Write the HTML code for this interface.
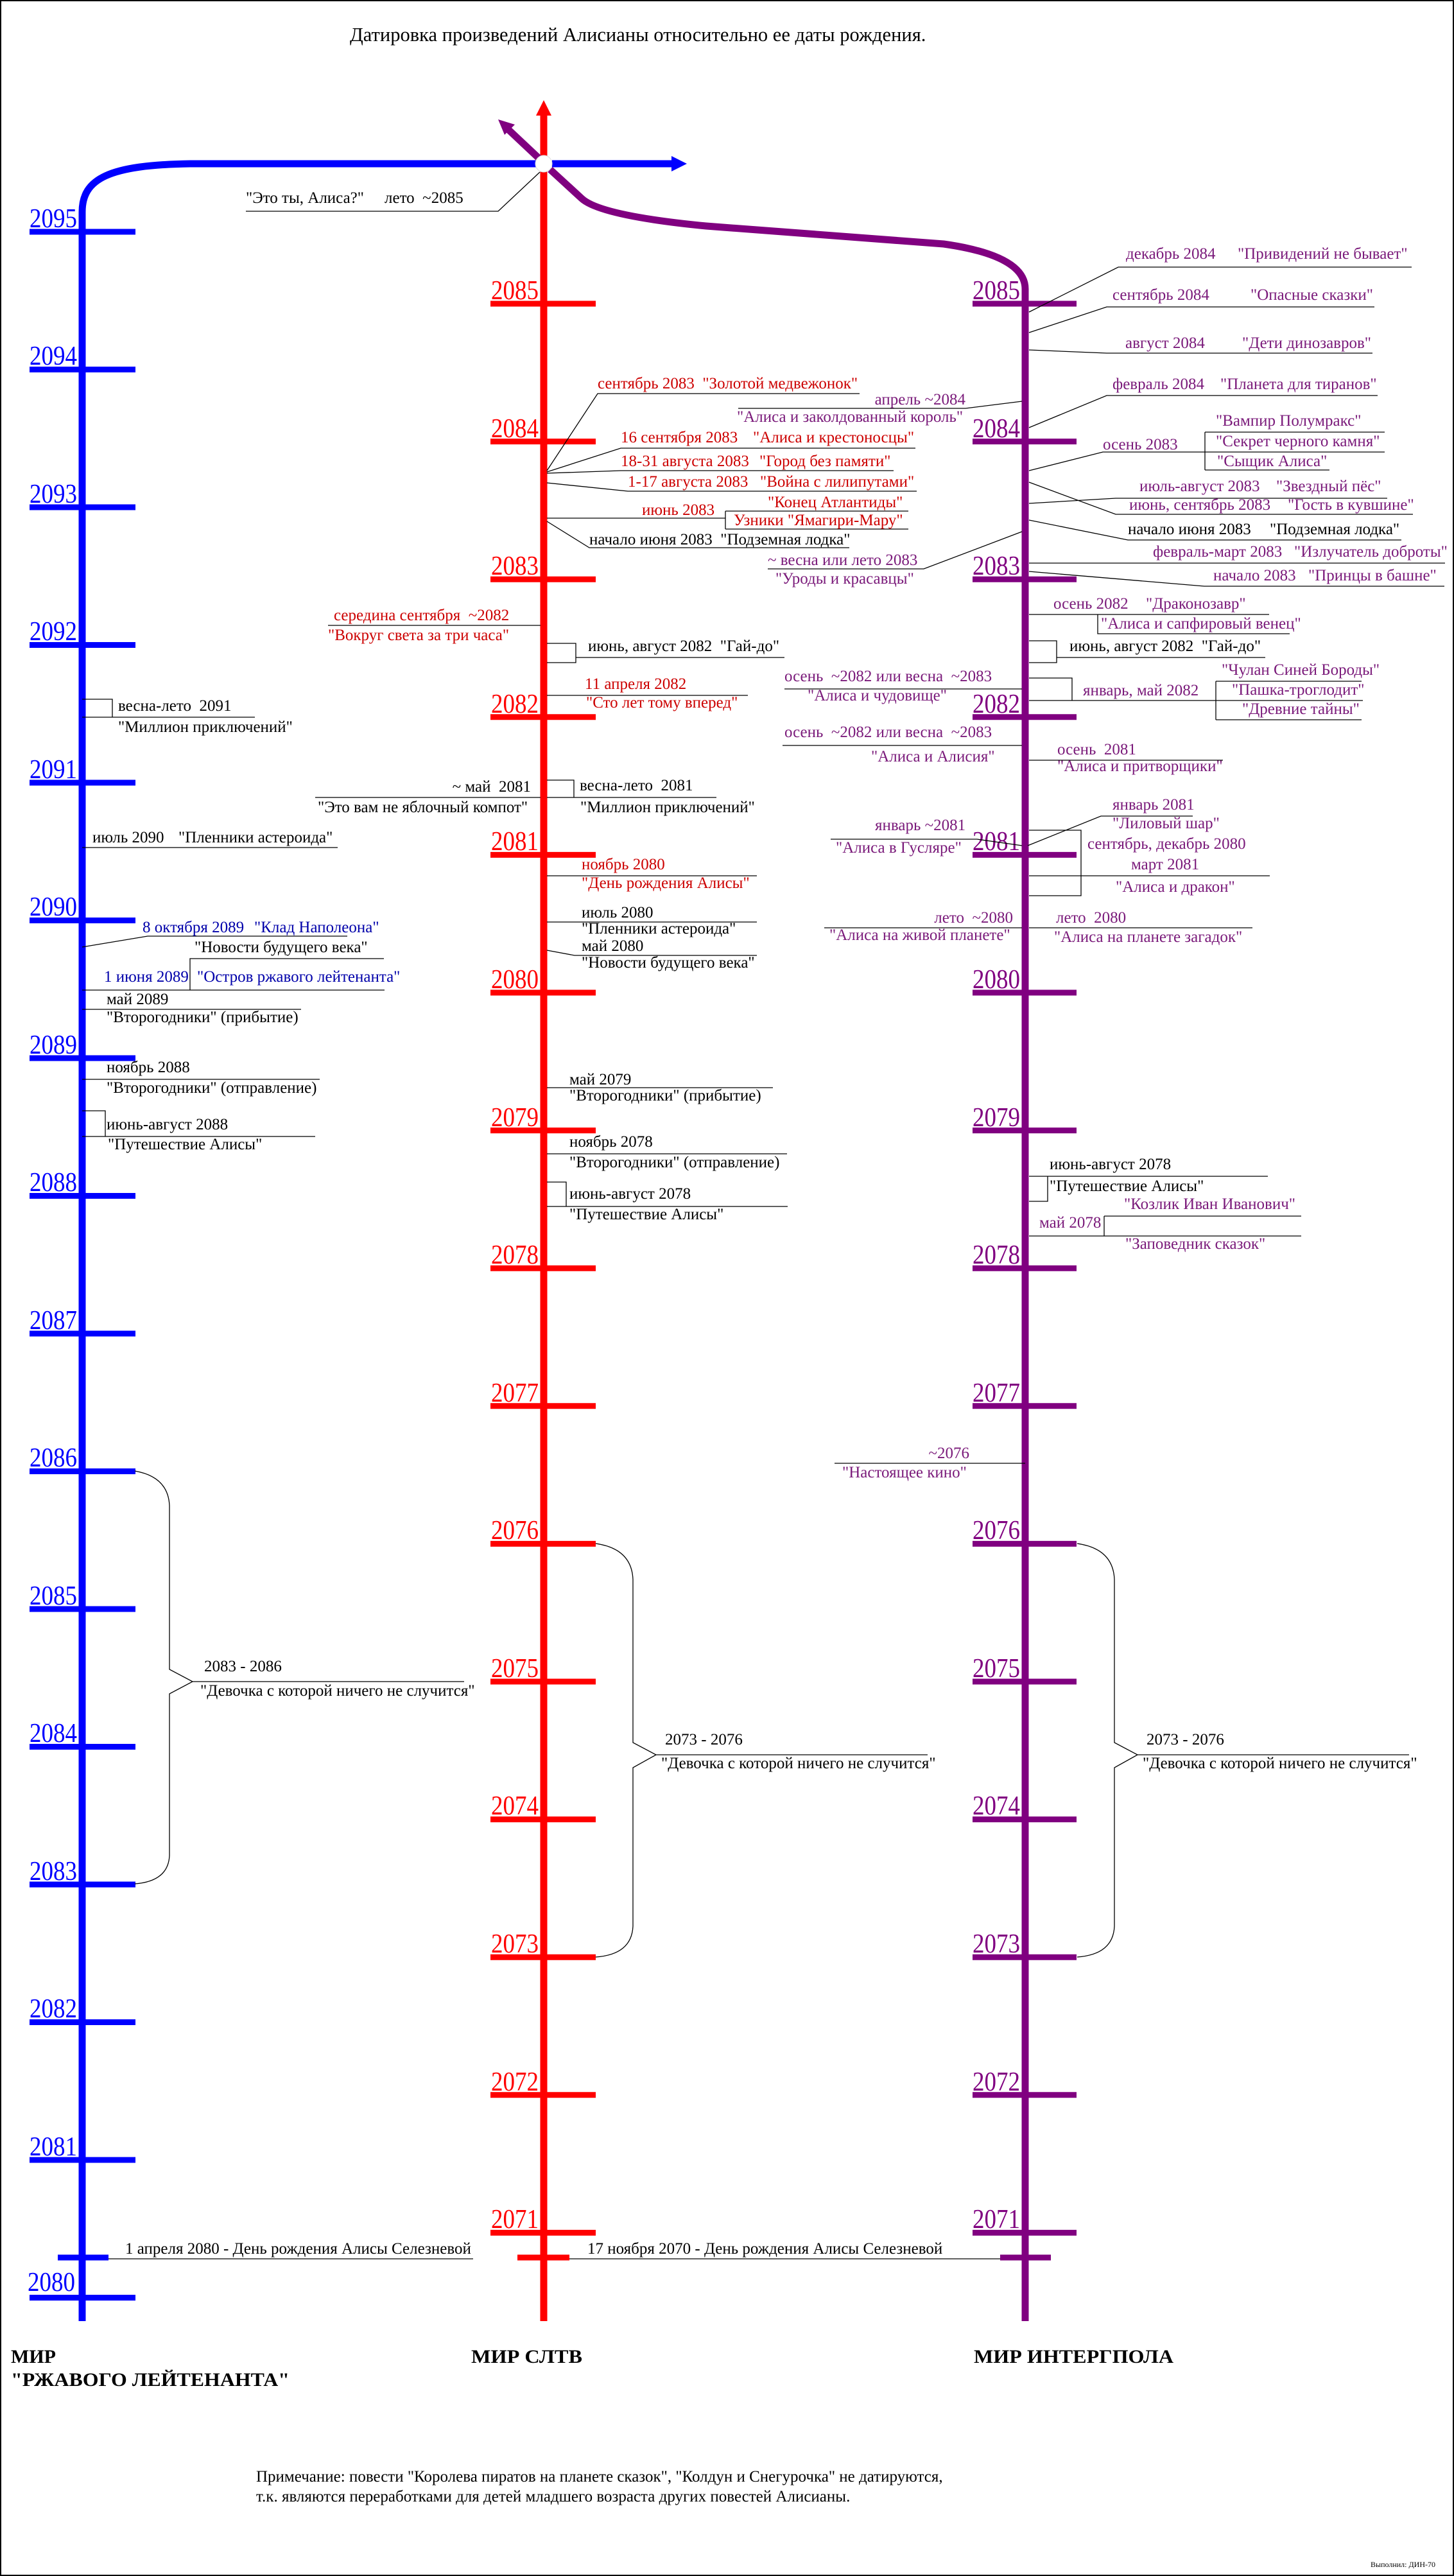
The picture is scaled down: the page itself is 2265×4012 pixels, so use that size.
<!DOCTYPE html>
<html><head><meta charset="utf-8">
<style>
html,body{margin:0;padding:0;background:#fff;}
svg{display:block;}
text{font-family:"Liberation Serif","DejaVu Serif",serif;font-size:25px;white-space:pre;}
.k{fill:#000}
.r{fill:#cc0000}
.b{fill:#0000aa}
.p{fill:#7a1a7a}
g.yb text{fill:#0000ff;font-size:42px}
g.yr text{fill:#ff0000;font-size:42px}
g.yp text{fill:#800080;font-size:42px}
.ln{stroke:#000;stroke-width:1.3;fill:none}
text.bold{font-weight:bold;font-size:30px;fill:#000}
</style></head>
<body>
<svg width="2265" height="4012" viewBox="0 0 2265 4012" xmlns="http://www.w3.org/2000/svg">
<rect x="1" y="1" width="2263" height="4010" fill="#fff" stroke="#000" stroke-width="2"/>
<text x="545" y="64" class="k" style="font-size:30.5px">Датировка произведений Алисианы относительно ее даты рождения.</text>

<!-- BLUE axis -->
<path d="M128,3615 L128,330 C128,278 170,257 296,255 L836,255" stroke="#0000ff" stroke-width="11" fill="none"/>
<path d="M860,255 L1050,255" stroke="#0000ff" stroke-width="11"/>
<polygon points="1070,255 1046,243 1046,267" fill="#0000ff"/>
<!-- RED axis -->
<path d="M847,3615 L847,175" stroke="#ff0000" stroke-width="11"/>
<polygon points="847,156 835,180 859,180" fill="#ff0000"/>
<!-- PURPLE -->
<path d="M857,264 L906,309 Q935,336 1100,352 L1470,380 Q1597,398 1597,450 L1597,3615" stroke="#800080" stroke-width="11" fill="none"/>
<path d="M840,247 L790,200" stroke="#800080" stroke-width="11"/>
<polygon points="776,186 802,194 786,210" fill="#800080"/>
<circle cx="847" cy="255" r="13" fill="#fff" stroke="#ddd" stroke-width="1"/>

<!-- blue ticks -->
<g stroke="#0000ff" stroke-width="9">
<line x1="46" x2="211" y1="361" y2="361"/><line x1="46" x2="211" y1="575.5" y2="575.5"/>
<line x1="46" x2="211" y1="790" y2="790"/><line x1="46" x2="211" y1="1004.5" y2="1004.5"/>
<line x1="46" x2="211" y1="1219" y2="1219"/><line x1="46" x2="211" y1="1433.5" y2="1433.5"/>
<line x1="46" x2="211" y1="1648" y2="1648"/><line x1="46" x2="211" y1="1862.5" y2="1862.5"/>
<line x1="46" x2="211" y1="2077" y2="2077"/><line x1="46" x2="211" y1="2291.5" y2="2291.5"/>
<line x1="46" x2="211" y1="2506" y2="2506"/><line x1="46" x2="211" y1="2720.5" y2="2720.5"/>
<line x1="46" x2="211" y1="2935" y2="2935"/><line x1="46" x2="211" y1="3149.5" y2="3149.5"/>
<line x1="46" x2="211" y1="3364" y2="3364"/><line x1="46" x2="211" y1="3578.5" y2="3578.5"/>
<line x1="90" x2="169" y1="3516" y2="3516"/>
</g>
<g class="yb" text-anchor="end">
<text x="120" y="354" textLength="74" lengthAdjust="spacingAndGlyphs">2095</text>
<text x="120" y="568" textLength="74" lengthAdjust="spacingAndGlyphs">2094</text>
<text x="120" y="783" textLength="74" lengthAdjust="spacingAndGlyphs">2093</text>
<text x="120" y="997" textLength="74" lengthAdjust="spacingAndGlyphs">2092</text>
<text x="120" y="1212" textLength="74" lengthAdjust="spacingAndGlyphs">2091</text>
<text x="120" y="1426" textLength="74" lengthAdjust="spacingAndGlyphs">2090</text>
<text x="120" y="1641" textLength="74" lengthAdjust="spacingAndGlyphs">2089</text>
<text x="120" y="1855" textLength="74" lengthAdjust="spacingAndGlyphs">2088</text>
<text x="120" y="2070" textLength="74" lengthAdjust="spacingAndGlyphs">2087</text>
<text x="120" y="2284" textLength="74" lengthAdjust="spacingAndGlyphs">2086</text>
<text x="120" y="2499" textLength="74" lengthAdjust="spacingAndGlyphs">2085</text>
<text x="120" y="2713" textLength="74" lengthAdjust="spacingAndGlyphs">2084</text>
<text x="120" y="2928" textLength="74" lengthAdjust="spacingAndGlyphs">2083</text>
<text x="120" y="3142" textLength="74" lengthAdjust="spacingAndGlyphs">2082</text>
<text x="120" y="3357" textLength="74" lengthAdjust="spacingAndGlyphs">2081</text>
<text x="117" y="3568" textLength="74" lengthAdjust="spacingAndGlyphs">2080</text>
</g>

<!-- red ticks -->
<g stroke="#ff0000" stroke-width="9">
<line x1="764" x2="928" y1="473" y2="473"/><line x1="764" x2="928" y1="687.6" y2="687.6"/>
<line x1="764" x2="928" y1="902.2" y2="902.2"/><line x1="764" x2="928" y1="1116.8" y2="1116.8"/>
<line x1="764" x2="928" y1="1331.4" y2="1331.4"/><line x1="764" x2="928" y1="1546" y2="1546"/>
<line x1="764" x2="928" y1="1760.6" y2="1760.6"/><line x1="764" x2="928" y1="1975.2" y2="1975.2"/>
<line x1="764" x2="928" y1="2189.8" y2="2189.8"/><line x1="764" x2="928" y1="2404.4" y2="2404.4"/>
<line x1="764" x2="928" y1="2619" y2="2619"/><line x1="764" x2="928" y1="2833.6" y2="2833.6"/>
<line x1="764" x2="928" y1="3048.2" y2="3048.2"/><line x1="764" x2="928" y1="3262.8" y2="3262.8"/>
<line x1="764" x2="928" y1="3477.4" y2="3477.4"/>
<line x1="806" x2="887" y1="3516" y2="3516"/>
</g>
<g class="yr" text-anchor="end">
<text x="839" y="466" textLength="74" lengthAdjust="spacingAndGlyphs">2085</text>
<text x="839" y="681" textLength="74" lengthAdjust="spacingAndGlyphs">2084</text>
<text x="839" y="895" textLength="74" lengthAdjust="spacingAndGlyphs">2083</text>
<text x="839" y="1110" textLength="74" lengthAdjust="spacingAndGlyphs">2082</text>
<text x="839" y="1324" textLength="74" lengthAdjust="spacingAndGlyphs">2081</text>
<text x="839" y="1539" textLength="74" lengthAdjust="spacingAndGlyphs">2080</text>
<text x="839" y="1754" textLength="74" lengthAdjust="spacingAndGlyphs">2079</text>
<text x="839" y="1968" textLength="74" lengthAdjust="spacingAndGlyphs">2078</text>
<text x="839" y="2183" textLength="74" lengthAdjust="spacingAndGlyphs">2077</text>
<text x="839" y="2397" textLength="74" lengthAdjust="spacingAndGlyphs">2076</text>
<text x="839" y="2612" textLength="74" lengthAdjust="spacingAndGlyphs">2075</text>
<text x="839" y="2826" textLength="74" lengthAdjust="spacingAndGlyphs">2074</text>
<text x="839" y="3041" textLength="74" lengthAdjust="spacingAndGlyphs">2073</text>
<text x="839" y="3256" textLength="74" lengthAdjust="spacingAndGlyphs">2072</text>
<text x="839" y="3470" textLength="74" lengthAdjust="spacingAndGlyphs">2071</text>
</g>

<!-- purple ticks -->
<g stroke="#800080" stroke-width="9">
<line x1="1515" x2="1677" y1="473" y2="473"/><line x1="1515" x2="1677" y1="687.6" y2="687.6"/>
<line x1="1515" x2="1677" y1="902.2" y2="902.2"/><line x1="1515" x2="1677" y1="1116.8" y2="1116.8"/>
<line x1="1515" x2="1677" y1="1331.4" y2="1331.4"/><line x1="1515" x2="1677" y1="1546" y2="1546"/>
<line x1="1515" x2="1677" y1="1760.6" y2="1760.6"/><line x1="1515" x2="1677" y1="1975.2" y2="1975.2"/>
<line x1="1515" x2="1677" y1="2189.8" y2="2189.8"/><line x1="1515" x2="1677" y1="2404.4" y2="2404.4"/>
<line x1="1515" x2="1677" y1="2619" y2="2619"/><line x1="1515" x2="1677" y1="2833.6" y2="2833.6"/>
<line x1="1515" x2="1677" y1="3048.2" y2="3048.2"/><line x1="1515" x2="1677" y1="3262.8" y2="3262.8"/>
<line x1="1515" x2="1677" y1="3477.4" y2="3477.4"/>
<line x1="1558" x2="1637" y1="3516" y2="3516"/>
</g>
<g class="yp" text-anchor="end">
<text x="1589" y="466" textLength="74" lengthAdjust="spacingAndGlyphs">2085</text>
<text x="1589" y="681" textLength="74" lengthAdjust="spacingAndGlyphs">2084</text>
<text x="1589" y="895" textLength="74" lengthAdjust="spacingAndGlyphs">2083</text>
<text x="1589" y="1110" textLength="74" lengthAdjust="spacingAndGlyphs">2082</text>
<text x="1589" y="1324" textLength="74" lengthAdjust="spacingAndGlyphs">2081</text>
<text x="1589" y="1539" textLength="74" lengthAdjust="spacingAndGlyphs">2080</text>
<text x="1589" y="1754" textLength="74" lengthAdjust="spacingAndGlyphs">2079</text>
<text x="1589" y="1968" textLength="74" lengthAdjust="spacingAndGlyphs">2078</text>
<text x="1589" y="2183" textLength="74" lengthAdjust="spacingAndGlyphs">2077</text>
<text x="1589" y="2397" textLength="74" lengthAdjust="spacingAndGlyphs">2076</text>
<text x="1589" y="2612" textLength="74" lengthAdjust="spacingAndGlyphs">2075</text>
<text x="1589" y="2826" textLength="74" lengthAdjust="spacingAndGlyphs">2074</text>
<text x="1589" y="3041" textLength="74" lengthAdjust="spacingAndGlyphs">2073</text>
<text x="1589" y="3256" textLength="74" lengthAdjust="spacingAndGlyphs">2072</text>
<text x="1589" y="3470" textLength="74" lengthAdjust="spacingAndGlyphs">2071</text>
</g>

<!-- connector lines -->
<g class="ln">
<path d="M383,329 L776,329 L841,268"/>
<path d="M128,1089 L175,1089 L175,1117 L128,1117 M175,1117 L397,1117"/>
<path d="M128,1320 L526,1320"/>
<path d="M128,1475 L230,1458 L541,1458"/>
<path d="M296,1542 L296,1493 L598,1493 M128,1542 L599,1542"/>
<path d="M128,1572 L469,1572"/>
<path d="M128,1681 L498,1681"/>
<path d="M128,1730 L164,1730 L164,1770 M128,1770 L491,1770"/>
<path d="M210,2291 Q262,2300 264,2345 L264,2600 L300,2619 L264,2638 L264,2890 Q262,2930 210,2934 M300,2619 L723,2619"/>
<path d="M169,3518 L737,3518"/>
<path d="M852,733 L931,613 L1339,613"/>
<path d="M852,735 L967,698 L1426,698"/>
<path d="M852,737 L967,733 L1392,733"/>
<path d="M852,752 L978,765 L1428,765"/>
<path d="M852,807 L1130,807 M1130,796 L1130,824 M1130,796 L1415,796 M1130,824 L1415,824"/>
<path d="M852,812 L918,853 L1323,853"/>
<path d="M511,974 L842,974"/>
<path d="M852,1002 L897,1002 L897,1032 L852,1032 M897,1024 L1222,1024"/>
<path d="M852,1083 L1165,1083"/>
<path d="M491,1242 L842,1242"/>
<path d="M852,1215 L894,1215 L894,1242 L852,1242 M894,1242 L1116,1242"/>
<path d="M852,1364 L1179,1364"/>
<path d="M852,1436 L1179,1436"/>
<path d="M852,1480 L895,1488 L1179,1488"/>
<path d="M852,1694 L1204,1694"/>
<path d="M852,1797 L1226,1797"/>
<path d="M852,1841 L882,1841 L882,1879 M852,1879 L1227,1879"/>
<path d="M928,2404 Q984,2412 986,2460 L986,2714 L1022,2733 L986,2753 L986,3000 Q984,3044 928,3048 M1022,2733 L1445,2733"/>
<path d="M887,3518 L1558,3518"/>
<path d="M1150,636 L1504,636 L1592,625"/>
<path d="M1196,886 L1439,886 L1592,828"/>
<path d="M1222,1073 L1592,1073"/>
<path d="M1219,1161 L1592,1161"/>
<path d="M1294,1307 L1522,1307 L1592,1317"/>
<path d="M1284,1445 L1592,1445"/>
<path d="M1300,2279 L1597,2279"/>
<path d="M1603,486 L1742,416 L2199,416"/>
<path d="M1603,518 L1724,478 L2141,478"/>
<path d="M1603,545 L1724,550 L2138,550"/>
<path d="M1603,666 L1724,616 L2146,616"/>
<path d="M1877,673 L2157,673 M1877,704 L2157,704 M1877,732 L2071,732 M1877,673 L1877,732"/>
<path d="M1603,733 L1718,704 L1877,704"/>
<path d="M1603,784 L1738,776 L2161,776"/>
<path d="M1603,751 L1738,801 L2201,801"/>
<path d="M1603,810 L1757,841 L2183,841"/>
<path d="M1603,877 L2251,877"/>
<path d="M1603,890 L1876,913 L2250,913"/>
<path d="M1603,957 L1977,957 M1710,957 L1710,987 L2009,987"/>
<path d="M1603,998 L1646,998 L1646,1032 L1603,1032 M1646,1024 L1971,1024"/>
<path d="M1603,1056 L1670,1056 L1670,1091 M1603,1091 L1894,1091 M1894,1061 L1894,1121 M1894,1061 L2121,1061 M1894,1091 L2123,1091 M1894,1121 L2121,1121"/>
<path d="M1603,1184 L1905,1184"/>
<path d="M1601,1317 L1715,1271 L1858,1271"/>
<path d="M1603,1293 L1684,1293 L1684,1395 L1603,1395 M1603,1364 L1978,1364"/>
<path d="M1603,1445 L1951,1445"/>
<path d="M1603,1832 L1975,1832 M1632,1832 L1632,1871 L1603,1871"/>
<path d="M1720,1894 L2027,1894 M1720,1894 L1720,1925 M1603,1925 L2027,1925"/>
<path d="M1678,2404 Q1734,2412 1736,2460 L1736,2714 L1772,2733 L1736,2753 L1736,3000 Q1734,3044 1678,3048 M1772,2733 L2195,2733"/>
</g>

<text x="383" y="316" class="k">"Это ты, Алиса?"</text>
<text x="599" y="316" class="k">лето  ~2085</text>

<text x="184" y="1107" class="k">весна-лето  2091</text>
<text x="184" y="1140" class="k">"Миллион приключений"</text>
<text x="144" y="1312" class="k">июль 2090</text>
<text x="278" y="1312" class="k">"Пленники астероида"</text>
<text x="222" y="1452" class="b">8 октября 2089</text>
<text x="396" y="1452" class="b">"Клад Наполеона"</text>
<text x="303" y="1483" class="k">"Новости будущего века"</text>
<text x="162" y="1529" class="b">1 июня 2089</text>
<text x="307" y="1529" class="b">"Остров ржавого лейтенанта"</text>
<text x="166" y="1564" class="k">май 2089</text>
<text x="166" y="1592" class="k">"Второгодники" (прибытие)</text>
<text x="166" y="1670" class="k">ноябрь 2088</text>
<text x="166" y="1702" class="k">"Второгодники" (отправление)</text>
<text x="166" y="1759" class="k">июнь-август 2088</text>
<text x="168" y="1790" class="k">"Путешествие Алисы"</text>
<text x="318" y="2603" class="k">2083 - 2086</text>
<text x="312" y="2641" class="k">"Девочка с которой ничего не случится"</text>
<text x="195" y="3510" class="k">1 апреля 2080 - День рождения Алисы Селезневой</text>

<text x="931" y="605" class="r">сентябрь 2083  "Золотой медвежонок"</text>
<text x="967" y="689" class="r">16 сентября 2083</text>
<text x="1173" y="689" class="r">"Алиса и крестоносцы"</text>
<text x="967" y="726" class="r">18-31 августа 2083</text>
<text x="1183" y="726" class="r">"Город без памяти"</text>
<text x="978" y="758" class="r">1-17 августа 2083</text>
<text x="1184" y="758" class="r">"Война с лилипутами"</text>
<text x="1000" y="802" class="r">июнь 2083</text>
<text x="1196" y="790" class="r">"Конец Атлантиды"</text>
<text x="1143" y="818" class="r">Узники "Ямагири-Мару"</text>
<text x="918" y="848" class="k">начало июня 2083  "Подземная лодка"</text>
<text x="520" y="966" class="r">середина сентября  ~2082</text>
<text x="511" y="997" class="r">"Вокруг света за три часа"</text>
<text x="916" y="1014" class="k">июнь, август 2082  "Гай-до"</text>
<text x="911" y="1073" class="r">11 апреля 2082</text>
<text x="913" y="1102" class="r">"Сто лет тому вперед"</text>
<text x="827" y="1233" class="k" text-anchor="end">~ май  2081</text>
<text x="495" y="1265" class="k">"Это вам не яблочный компот"</text>
<text x="903" y="1231" class="k">весна-лето  2081</text>
<text x="904" y="1265" class="k">"Миллион приключений"</text>
<text x="906" y="1354" class="r">ноябрь 2080</text>
<text x="906" y="1383" class="r">"День рождения Алисы"</text>
<text x="906" y="1429" class="k">июль 2080</text>
<text x="906" y="1454" class="k">"Пленники астероида"</text>
<text x="906" y="1481" class="k">май 2080</text>
<text x="906" y="1507" class="k">"Новости будущего века"</text>
<text x="887" y="1689" class="k">май 2079</text>
<text x="887" y="1714" class="k">"Второгодники" (прибытие)</text>
<text x="887" y="1786" class="k">ноябрь 2078</text>
<text x="887" y="1818" class="k">"Второгодники" (отправление)</text>
<text x="887" y="1867" class="k">июнь-август 2078</text>
<text x="887" y="1899" class="k">"Путешествие Алисы"</text>
<text x="1036" y="2717" class="k">2073 - 2076</text>
<text x="1030" y="2754" class="k">"Девочка с которой ничего не случится"</text>
<text x="915" y="3510" class="k">17 ноября 2070 - День рождения Алисы Селезневой</text>

<text x="1504" y="630" class="p" text-anchor="end">апрель ~2084</text>
<text x="1148" y="657" class="p">"Алиса и заколдованный король"</text>
<text x="1196" y="880" class="p">~ весна или лето 2083</text>
<text x="1208" y="909" class="p">"Уроды и красавцы"</text>
<text x="1222" y="1061" class="p">осень  ~2082 или весна  ~2083</text>
<text x="1258" y="1091" class="p">"Алиса и чудовище"</text>
<text x="1222" y="1148" class="p">осень  ~2082 или весна  ~2083</text>
<text x="1357" y="1186" class="p">"Алиса и Алисия"</text>
<text x="1363" y="1293" class="p">январь ~2081</text>
<text x="1302" y="1328" class="p">"Алиса в Гусляре"</text>
<text x="1578" y="1437" class="p" text-anchor="end">лето  ~2080</text>
<text x="1292" y="1464" class="p">"Алиса на живой планете"</text>
<text x="1510" y="2271" class="p" text-anchor="end">~2076</text>
<text x="1312" y="2301" class="p">"Настоящее кино"</text>

<text x="1754" y="403" class="p">декабрь 2084</text>
<text x="1928" y="403" class="p">"Привидений не бывает"</text>
<text x="1733" y="467" class="p">сентябрь 2084</text>
<text x="1948" y="467" class="p">"Опасные сказки"</text>
<text x="1753" y="542" class="p">август 2084</text>
<text x="1935" y="542" class="p">"Дети динозавров"</text>
<text x="1733" y="606" class="p">февраль 2084</text>
<text x="1901" y="606" class="p">"Планета для тиранов"</text>
<text x="1894" y="663" class="p">"Вампир Полумракс"</text>
<text x="1718" y="700" class="p">осень 2083</text>
<text x="1894" y="695" class="p">"Секрет черного камня"</text>
<text x="1896" y="726" class="p">"Сыщик Алиса"</text>
<text x="1775" y="765" class="p">июль-август 2083</text>
<text x="1988" y="765" class="p">"Звездный пёс"</text>
<text x="1759" y="794" class="p">июнь, сентябрь 2083</text>
<text x="2006" y="794" class="p">"Гость в кувшине"</text>
<text x="1757" y="832" class="k">начало июня 2083</text>
<text x="1978" y="832" class="k">"Подземная лодка"</text>
<text x="1796" y="867" class="p">февраль-март 2083</text>
<text x="2016" y="867" class="p">"Излучатель доброты"</text>
<text x="1890" y="904" class="p">начало 2083</text>
<text x="2038" y="904" class="p">"Принцы в башне"</text>
<text x="1641" y="948" class="p">осень 2082</text>
<text x="1785" y="948" class="p">"Драконозавр"</text>
<text x="1715" y="979" class="p">"Алиса и сапфировый венец"</text>
<text x="1666" y="1014" class="k">июнь, август 2082  "Гай-до"</text>
<text x="1903" y="1051" class="p">"Чулан Синей Бороды"</text>
<text x="1687" y="1083" class="p">январь, май 2082</text>
<text x="1919" y="1082" class="p">"Пашка-троглодит"</text>
<text x="1935" y="1112" class="p">"Древние тайны"</text>
<text x="1647" y="1175" class="p">осень  2081</text>
<text x="1647" y="1201" class="p">"Алиса и притворщики"</text>
<text x="1733" y="1261" class="p">январь 2081</text>
<text x="1733" y="1290" class="p">"Лиловый шар"</text>
<text x="1694" y="1322" class="p">сентябрь, декабрь 2080</text>
<text x="1762" y="1354" class="p">март 2081</text>
<text x="1738" y="1389" class="p">"Алиса и дракон"</text>
<text x="1645" y="1437" class="p">лето  2080</text>
<text x="1642" y="1467" class="p">"Алиса на планете загадок"</text>
<text x="1635" y="1821" class="k">июнь-август 2078</text>
<text x="1635" y="1855" class="k">"Путешествие Алисы"</text>
<text x="1751" y="1883" class="p">"Козлик Иван Иванович"</text>
<text x="1619" y="1912" class="p">май 2078</text>
<text x="1753" y="1945" class="p">"Заповедник сказок"</text>
<text x="1786" y="2717" class="k">2073 - 2076</text>
<text x="1780" y="2754" class="k">"Девочка с которой ничего не случится"</text>

<text x="17" y="3680" class="bold">МИР</text>
<text x="17" y="3716" class="bold" textLength="434" lengthAdjust="spacingAndGlyphs">"РЖАВОГО ЛЕЙТЕНАНТА"</text>
<text x="734" y="3680" class="bold" textLength="173" lengthAdjust="spacingAndGlyphs">МИР СЛТВ</text>
<text x="1517" y="3680" class="bold" textLength="311" lengthAdjust="spacingAndGlyphs">МИР ИНТЕРГПОЛА</text>
<text x="399" y="3865" class="k">Примечание: повести "Королева пиратов на планете сказок", "Колдун и Снегурочка" не датируются,</text>
<text x="399" y="3896" class="k">т.к. являются переработками для детей младшего возраста других повестей Алисианы.</text>
<text x="2135" y="3998" class="k" style="font-size:12px">Выполнил: ДИН-70</text>
</svg>
</body></html>
